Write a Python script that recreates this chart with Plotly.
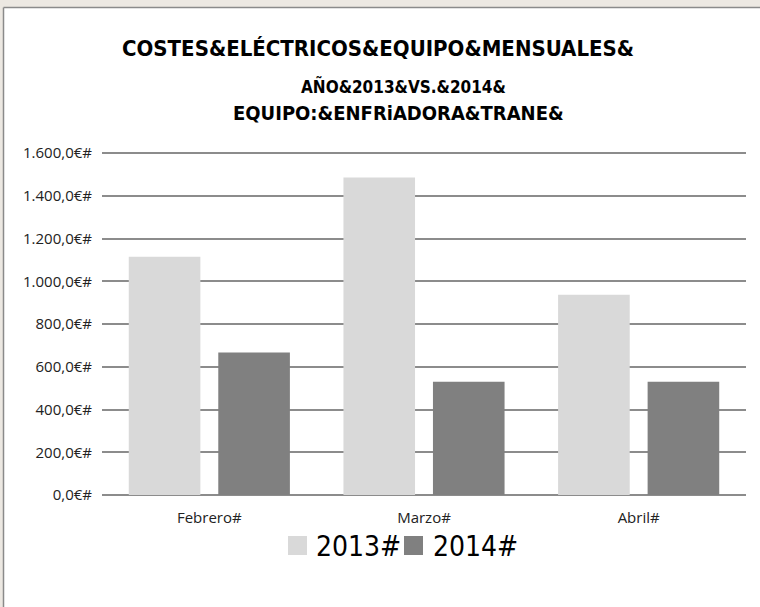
import plotly.graph_objects as go

# ---- data ----
categories = ["Febrero#", "Marzo#", "Abril#"]
series_names = ["2013#", "2014#"]
values_2013 = [1115, 1485, 937]
values_2014 = [667, 530, 530]
tick_values = [0, 200, 400, 600, 800, 1000, 1200, 1400, 1600]
tick_labels = ["0,0€#", "200,0€#", "400,0€#", "600,0€#", "800,0€#",
               "1.000,0€#", "1.200,0€#", "1.400,0€#", "1.600,0€#"]
title_lines = ["COSTES&ELÉCTRICOS&EQUIPO&MENSUALES&",
               "AÑO&2013&VS.&2014&",
               "EQUIPO:&ENFRiADORA&TRANE&"]
colors = ["#d9d9d9", "#808080"]

W, H = 760, 607
L, R, T, B = 102, 14, 151, 112
pw, ph = W - L - R, H - T - B
ymax = 1600 * ph / (ph - 2)

def px(x):
    return (x - L) / pw

def py(y):
    return (H - B - y) / ph

fig = go.Figure()
for name, vals, c in zip(series_names, [values_2013, values_2014], colors):
    fig.add_trace(go.Bar(x=categories, y=vals, name=name, marker_color=c,
                         marker_line_width=0, showlegend=False, hoverinfo="skip"))

tfont = "DejaVu Sans Condensed, Liberation Sans Narrow, sans-serif"
annotations = [
    dict(text="<b>%s</b>" % title_lines[0], x=px(378), y=py(49), font=dict(size=22, family=tfont, color="#000")),
    dict(text="<b>%s</b>" % title_lines[1], x=px(403), y=py(86), font=dict(size=17, family=tfont, color="#000")),
    dict(text="<b>%s</b>" % title_lines[2], x=px(398), y=py(113), font=dict(size=20, family=tfont, color="#000")),
]
for a in annotations:
    a.update(xref="paper", yref="paper", showarrow=False, xanchor="center", yanchor="middle")

shapes = [
    # page background strips and chart frame
    dict(type="rect", xref="paper", yref="paper", x0=px(0), x1=px(W), y0=py(0), y1=py(7),
         fillcolor="#ece8e2", line_width=0, layer="above"),
    dict(type="rect", xref="paper", yref="paper", x0=px(0), x1=px(3), y0=py(0), y1=py(H),
         fillcolor="#ece8e2", line_width=0, layer="above"),
    dict(type="line", xref="paper", yref="paper", x0=px(3.5), x1=px(W), y0=py(7.5), y1=py(7.5),
         line=dict(color="#8a8a8a", width=1.5), layer="above"),
    dict(type="line", xref="paper", yref="paper", x0=px(3.5), x1=px(3.5), y0=py(7.5), y1=py(H),
         line=dict(color="#8a8a8a", width=1.5), layer="above"),
]

# legend drawn as squares + text
legend_items = [(288, 314), (404, 431)]
for (sx, tx), name, c in zip(legend_items, series_names, colors):
    shapes.append(dict(type="rect", xref="paper", yref="paper", x0=px(sx), x1=px(sx + 19),
                       y0=py(536), y1=py(555), fillcolor=c, line_width=0))
    annotations.append(dict(text=name, xref="paper", yref="paper", x=px(tx), y=py(546),
                            xanchor="left", yanchor="middle", showarrow=False,
                            font=dict(size=28, family=tfont, color="#000")))

fig.update_layout(
    width=W, height=H,
    margin=dict(l=L, r=R, t=T, b=B, pad=0),
    paper_bgcolor="white", plot_bgcolor="white",
    barmode="group", bargap=0.166, bargroupgap=0.2,
    annotations=annotations, shapes=shapes,
    xaxis=dict(showgrid=False, showline=False, ticks="", ticklabelstandoff=12,
               tickfont=dict(size=15, family="Open Sans, sans-serif", color="#222")),
    yaxis=dict(range=[0, ymax], tickvals=tick_values, ticktext=tick_labels,
               showgrid=True, gridcolor="#8c8c8c", gridwidth=1.5,
               zeroline=True, zerolinecolor="#8c8c8c", zerolinewidth=1.5,
               showline=False, ticks="", ticklabelstandoff=9,
               tickfont=dict(size=15, family="Open Sans, sans-serif", color="#222")),
)

fig.write_html("out.html", config={"displayModeBar": False},
               post_script="document.body.style.margin='0';")
